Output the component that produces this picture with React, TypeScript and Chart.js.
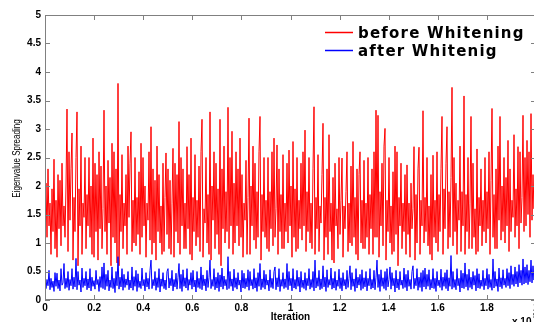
import React, { useEffect, useRef } from "react";
import { Chart, registerables } from "chart.js";

Chart.register(...registerables);

// Iteration axis (in units of 1e5); samples evenly spaced over 0..2
const X_MIN = 0;
const X_MAX = 2;
const X_STEP = 0.2;
const Y_MIN = 0;
const Y_MAX = 5;
const Y_STEP = 0.5;

const SERIES_NAMES = ["before Whitening", "after Whitenig"];

// Eigenvalue spreading before whitening (one sample per pixel column)
const beforeWhitening = [
  1.55, 2.05, 1.1, 2.3, 1.3, 1.7, 0.8, 1.95, 1.2, 2.47, 0.9, 1.75, 0.75, 2.2, 1.25, 2.1, 0.95, 2.4, 1.3, 1.65,
  1.1, 2.0, 3.35, 0.85, 2.6, 1.4, 2.3, 2.93, 0.7, 1.8, 1.2, 2.5, 3.3, 0.6, 1.95, 1.3, 2.7, 0.8, 1.7, 1.45,
  2.5, 0.9, 1.85, 1.3, 2.5, 1.1, 2.0, 0.8, 2.84, 0.75, 2.4, 1.2, 2.2, 0.7, 2.6, 1.25, 2.35, 0.9, 1.6, 3.33,
  1.2, 2.0, 0.8, 2.45, 1.35, 2.15, 0.6, 2.75, 1.1, 2.6, 1.0, 2.3, 0.65, 3.8, 0.6, 1.85, 1.2, 2.55, 0.9, 1.7,
  1.3, 2.2, 0.8, 2.7, 1.45, 2.4, 2.95, 0.85, 1.75, 1.0, 2.5, 0.95, 1.8, 1.15, 2.25, 0.8, 2.75, 1.1, 2.5, 1.3,
  2.0, 0.75, 1.7, 1.4, 2.6, 1.05, 3.04, 0.8, 2.3, 1.0, 2.1, 0.7, 2.7, 1.2, 2.2, 1.0, 1.65, 0.8, 2.4, 0.85,
  1.8, 2.58, 1.15, 2.3, 0.9, 2.1, 0.8, 1.7, 2.66, 0.75, 2.4, 1.2, 2.2, 1.0, 3.13, 0.8, 2.5, 1.3, 2.3, 0.9,
  1.7, 0.9, 2.69, 1.25, 2.2, 0.8, 2.84, 0.7, 1.8, 1.2, 2.55, 0.95, 1.75, 1.1, 2.35, 0.85, 2.6, 3.17, 0.75, 1.6,
  1.35, 2.5, 1.0, 1.85, 0.8, 3.3, 0.7, 2.0, 1.4, 2.6, 0.9, 2.4, 1.15, 1.95, 0.8, 3.17, 0.6, 2.3, 1.25, 2.7,
  1.0, 1.9, 1.2, 3.38, 0.9, 2.5, 1.3, 2.96, 0.8, 2.05, 1.0, 2.6, 1.3, 2.3, 0.95, 2.84, 1.1, 2.2, 0.75, 1.7,
  1.4, 2.45, 0.8, 1.8, 3.19, 0.8, 2.0, 1.3, 2.7, 1.05, 2.4, 0.9, 1.9, 1.1, 2.6, 3.22, 0.7, 1.85, 1.2, 2.5,
  1.1, 1.75, 0.9, 2.5, 0.85, 1.9, 1.25, 2.6, 0.95, 2.84, 1.1, 1.6, 2.72, 0.8, 2.3, 1.2, 1.85, 0.9, 2.55, 0.9,
  1.7, 1.2, 2.4, 1.0, 2.63, 1.3, 2.0, 0.75, 2.78, 1.1, 1.95, 0.85, 2.5, 0.9, 1.75, 1.25, 2.4, 1.05, 2.6, 1.3,
  2.98, 0.85, 1.9, 1.2, 2.5, 1.0, 1.7, 0.9, 2.3, 3.39, 0.8, 1.8, 1.25, 2.55, 0.85, 1.65, 1.35, 2.2, 3.1, 0.7,
  1.8, 1.1, 2.3, 0.8, 2.9, 1.2, 1.7, 0.7, 2.15, 0.65, 2.4, 1.3, 1.6, 0.9, 2.5, 1.15, 1.75, 2.49, 0.75, 1.65,
  1.25, 1.9, 2.6, 0.85, 1.7, 1.0, 2.35, 0.95, 2.78, 1.1, 1.8, 0.8, 2.3, 0.7, 2.2, 2.6, 1.0, 1.75, 0.9, 2.45,
  0.9, 1.7, 1.1, 2.5, 0.8, 1.85, 1.25, 2.3, 0.8, 2.6, 1.1, 3.33, 1.1, 3.24, 0.75, 1.9, 1.3, 2.4, 0.95, 2.7,
  3.01, 0.7, 1.75, 1.2, 2.5, 1.0, 1.65, 0.8, 2.25, 0.85, 2.7, 1.15, 2.6, 0.6, 1.8, 1.3, 2.4, 0.9, 1.7, 1.2,
  2.2, 0.8, 2.37, 1.15, 1.7, 0.75, 2.05, 1.25, 1.6, 2.69, 0.7, 1.85, 1.0, 2.3, 2.68, 0.8, 1.75, 1.3, 3.32, 1.0,
  1.8, 1.2, 2.5, 0.95, 1.65, 0.8, 2.2, 0.7, 2.54, 1.1, 1.75, 1.0, 2.6, 0.85, 1.85, 1.2, 2.3, 3.22, 0.8, 1.95,
  1.25, 2.4, 3.04, 0.9, 1.9, 1.1, 2.15, 3.73, 0.95, 2.5, 1.2, 2.05, 0.8, 1.75, 1.4, 2.7, 0.85, 1.9, 1.3, 3.58,
  0.8, 1.85, 1.2, 2.5, 0.9, 1.7, 3.22, 0.9, 2.4, 1.1, 1.6, 0.8, 2.65, 0.85, 1.8, 1.3, 2.3, 0.95, 1.75, 1.2,
  2.5, 1.0, 1.9, 1.25, 2.6, 0.8, 2.1, 3.36, 1.1, 1.85, 0.9, 2.3, 0.9, 2.7, 1.4, 3.22, 1.05, 2.0, 1.2, 2.5,
  1.0, 2.15, 1.3, 2.8, 0.85, 2.3, 1.2, 1.75, 1.45, 2.9, 1.1, 1.95, 1.3, 2.69, 0.9, 2.6, 1.35, 1.8, 3.24, 1.2,
  2.5, 1.3, 2.8, 1.5, 2.6, 1.1, 3.27, 1.4, 2.2, 1.6, 2.45, 1.5,
];

// Eigenvalue spreading after whitening (one sample per pixel column)
const afterWhitening = [
  0.42, 0.2, 0.36, 0.25, 0.52, 0.18, 0.38, 0.22, 0.33, 0.15, 0.48, 0.24, 0.47, 0.2, 0.35, 0.16, 0.55, 0.26, 0.3, 0.64,
  0.2, 0.38, 0.22, 0.5, 0.17, 0.36, 0.25, 0.55, 0.19, 0.4, 0.23, 0.73, 0.18, 0.5, 0.26, 0.35, 0.14, 0.56, 0.22, 0.38,
  0.25, 0.5, 0.18, 0.37, 0.21, 0.55, 0.16, 0.4, 0.24, 0.34, 0.19, 0.52, 0.27, 0.36, 0.15, 0.41, 0.22, 0.58, 0.2, 0.65,
  0.18, 0.45, 0.24, 0.52, 0.16, 0.35, 0.22, 0.58, 0.2, 0.38, 0.13, 0.5, 0.25, 0.76, 0.19, 0.4, 0.23, 0.55, 0.17, 0.45,
  0.22, 0.37, 0.26, 0.5, 0.18, 0.35, 0.21, 0.58, 0.17, 0.41, 0.24, 0.52, 0.15, 0.46, 0.22, 0.33, 0.2, 0.56, 0.25, 0.36,
  0.16, 0.48, 0.23, 0.38, 0.19, 0.52, 0.7, 0.2, 0.36, 0.25, 0.5, 0.17, 0.39, 0.22, 0.55, 0.14, 0.37, 0.24, 0.48, 0.2,
  0.35, 0.18, 0.5, 0.55, 0.21, 0.38, 0.25, 0.52, 0.16, 0.36, 0.23, 0.47, 0.19, 0.4, 0.64, 0.2, 0.45, 0.15, 0.53, 0.24,
  0.39, 0.21, 0.55, 0.17, 0.36, 0.26, 0.48, 0.19, 0.52, 0.23, 0.35, 0.14, 0.5, 0.22, 0.38, 0.2, 0.58, 0.18, 0.44, 0.25,
  0.37, 0.16, 0.52, 0.22, 0.39, 0.7, 0.2, 0.36, 0.24, 0.55, 0.18, 0.4, 0.21, 0.48, 0.15, 0.44, 0.23, 0.56, 0.19, 0.42,
  0.25, 0.36, 0.18, 0.76, 0.2, 0.5, 0.24, 0.37, 0.16, 0.54, 0.22, 0.39, 0.19, 0.48, 0.26, 0.35, 0.14, 0.52, 0.21, 0.47,
  0.2, 0.38, 0.23, 0.53, 0.17, 0.5, 0.25, 0.36, 0.19, 0.55, 0.21, 0.39, 0.15, 0.48, 0.24, 0.64, 0.18, 0.37, 0.22, 0.52,
  0.19, 0.45, 0.26, 0.35, 0.16, 0.53, 0.22, 0.38, 0.2, 0.5, 0.58, 0.18, 0.39, 0.23, 0.55, 0.15, 0.36, 0.24, 0.48, 0.2,
  0.37, 0.22, 0.64, 0.18, 0.5, 0.25, 0.38, 0.16, 0.55, 0.21, 0.36, 0.19, 0.52, 0.24, 0.4, 0.14, 0.5, 0.22, 0.35, 0.2,
  0.48, 0.17, 0.38, 0.25, 0.55, 0.19, 0.36, 0.22, 0.5, 0.16, 0.7, 0.21, 0.39, 0.24, 0.52, 0.18, 0.37, 0.2, 0.6, 0.23,
  0.4, 0.15, 0.53, 0.22, 0.36, 0.26, 0.56, 0.19, 0.38, 0.21, 0.5, 0.17, 0.35, 0.24, 0.54, 0.2, 0.39, 0.16, 0.48, 0.25,
  0.36, 0.19, 0.52, 0.22, 0.38, 0.6, 0.18, 0.48, 0.24, 0.37, 0.15, 0.55, 0.21, 0.4, 0.26, 0.45, 0.17, 0.53, 0.2, 0.39,
  0.23, 0.5, 0.16, 0.38, 0.25, 0.55, 0.19, 0.36, 0.21, 0.52, 0.18, 0.4, 0.7, 0.22, 0.45, 0.15, 0.53, 0.24, 0.39, 0.2,
  0.5, 0.17, 0.55, 0.23, 0.36, 0.58, 0.19, 0.48, 0.25, 0.38, 0.14, 0.52, 0.21, 0.37, 0.18, 0.5, 0.26, 0.35, 0.2, 0.56,
  0.22, 0.45, 0.16, 0.52, 0.24, 0.36, 0.19, 0.5, 0.6, 0.2, 0.38, 0.25, 0.55, 0.17, 0.4, 0.22, 0.48, 0.15, 0.52, 0.23,
  0.56, 0.19, 0.45, 0.24, 0.53, 0.18, 0.36, 0.21, 0.55, 0.2, 0.38, 0.15, 0.5, 0.25, 0.35, 0.22, 0.54, 0.17, 0.4, 0.24,
  0.48, 0.2, 0.53, 0.16, 0.39, 0.24, 0.78, 0.19, 0.5, 0.22, 0.36, 0.18, 0.55, 0.25, 0.38, 0.14, 0.52, 0.21, 0.47, 0.2,
  0.65, 0.23, 0.45, 0.17, 0.54, 0.22, 0.4, 0.19, 0.5, 0.26, 0.43, 0.16, 0.55, 0.21, 0.46, 0.2, 0.35, 0.24, 0.52, 0.18,
  0.38, 0.25, 0.55, 0.19, 0.45, 0.22, 0.36, 0.17, 0.72, 0.21, 0.5, 0.24, 0.37, 0.15, 0.56, 0.23, 0.39, 0.2, 0.53, 0.26,
  0.38, 0.22, 0.55, 0.25, 0.48, 0.2, 0.6, 0.27, 0.45, 0.24, 0.58, 0.28, 0.5, 0.23, 0.62, 0.3, 0.52, 0.26, 0.72, 0.28,
  0.58, 0.3, 0.62, 0.27, 0.52, 0.32, 0.7, 0.3, 0.6, 0.35, 0.66, 0.38,
];

const toPoints = (vals: number[]) =>
  vals.map((y, i) => ({ x: X_MIN + (i * (X_MAX - X_MIN)) / (vals.length - 1), y }));

const COLORS = ["rgb(255,0,0)", "rgb(0,0,255)"];
const FRAME = "#808080";

const framePlugin = {
  id: "matlabFrame",
  afterDraw(chart: any) {
    const { ctx, chartArea: a, scales } = chart;
    const xs = scales.x;
    const ys = scales.y;
    ctx.save();
    ctx.strokeStyle = FRAME;
    ctx.lineWidth = 1;
    ctx.beginPath();
    ctx.rect(a.left + 0.5, a.top + 0.5, a.right - a.left - 1, a.bottom - a.top - 1);
    ctx.stroke();
    ctx.beginPath();
    xs.ticks.forEach((t: any) => {
      const px = Math.round(xs.getPixelForValue(t.value)) + 0.5;
      ctx.moveTo(px, a.bottom);
      ctx.lineTo(px, a.bottom - 5);
      ctx.moveTo(px, a.top);
      ctx.lineTo(px, a.top + 5);
    });
    ys.ticks.forEach((t: any) => {
      const py = Math.round(ys.getPixelForValue(t.value)) + 0.5;
      ctx.moveTo(a.left, py);
      ctx.lineTo(a.left + 5, py);
      ctx.moveTo(a.right, py);
      ctx.lineTo(a.right - 5, py);
    });
    ctx.stroke();

    // Legend (no box)
    const legendRows = [
      { y: 32.5, base: 38 },
      { y: 50.5, base: 56 },
    ];
    SERIES_NAMES.forEach((name, i) => {
      const r = legendRows[i];
      ctx.strokeStyle = COLORS[i];
      ctx.lineWidth = 1.5;
      ctx.beginPath();
      ctx.moveTo(325, r.y);
      ctx.lineTo(353, r.y);
      ctx.stroke();
      ctx.fillStyle = "#000";
      ctx.font = 'bold 15px "DejaVu Sans"';
      (ctx as any).letterSpacing = "1.2px";
      ctx.textAlign = "left";
      ctx.textBaseline = "alphabetic";
      ctx.fillText(name, 358, r.base);
      (ctx as any).letterSpacing = "0px";
    });

    // Axis titles
    ctx.fillStyle = "#000";
    ctx.font = 'bold 10px "Liberation Sans"';
    ctx.textAlign = "center";
    ctx.textBaseline = "middle";
    ctx.fillText("Iteration", (a.left + a.right) / 2, 317);

    ctx.save();
    ctx.translate(17, (a.top + a.bottom) / 2 + 1);
    ctx.rotate(-Math.PI / 2);
    ctx.scale(0.8, 1);
    ctx.font = '10px "Liberation Sans"';
    ctx.fillText("Eigenvalue Spreading", 0, 0);
    ctx.restore();

    // Exponent label
    ctx.textAlign = "left";
    ctx.textBaseline = "top";
    ctx.font = 'bold 10px "Liberation Sans"';
    ctx.fillText("x 10", 512, 317);
    ctx.font = 'bold 7px "Liberation Sans"';
    ctx.fillText("5", 533, 313);
    ctx.restore();
  },
};

export default function App() {
  const ref = useRef<HTMLCanvasElement | null>(null);
  useEffect(() => {
    if (!ref.current) return;
    const chart = new Chart(ref.current, {
      type: "line",
      data: {
        datasets: [
          {
            label: SERIES_NAMES[1],
            data: toPoints(afterWhitening),
            borderColor: COLORS[1],
            borderWidth: 1,
            pointRadius: 0,
            tension: 0,
            order: 0,
          },
          {
            label: SERIES_NAMES[0],
            data: toPoints(beforeWhitening),
            borderColor: COLORS[0],
            borderWidth: 1,
            pointRadius: 0,
            tension: 0,
            order: 1,
          },
        ],
      },
      options: {
        responsive: false,
        animation: false,
        devicePixelRatio: 1,
        layout: { padding: { top: 15, right: 9, left: 0, bottom: 0 } },
        plugins: {
          legend: { display: false },
          tooltip: { enabled: false },
        },
        scales: {
          x: {
            type: "linear",
            min: X_MIN,
            max: X_MAX,
            grid: { display: false, drawTicks: false },
            border: { display: false },
            ticks: {
              stepSize: X_STEP,
              padding: 2,
              maxRotation: 0,
              autoSkip: false,
              color: "#000",
              font: { family: "Liberation Sans", size: 10, weight: "bold" },
              callback: (v: any) => String(Math.round(Number(v) * 10) / 10),
            },
            afterFit: (s: any) => {
              s.height = 22;
            },
          },
          y: {
            type: "linear",
            min: Y_MIN,
            max: Y_MAX,
            grid: { display: false, drawTicks: false },
            border: { display: false },
            ticks: {
              stepSize: Y_STEP,
              padding: 4,
              color: "#000",
              font: { family: "Liberation Sans", size: 10, weight: "bold" },
              callback: (v: any) => String(Math.round(Number(v) * 10) / 10),
            },
            afterFit: (s: any) => {
              s.width = 45;
            },
          },
        },
      },
      plugins: [framePlugin],
    });
    return () => chart.destroy();
  }, []);
  return (
    <div
      style={{
        position: "fixed",
        left: 0,
        top: 0,
        width: 534,
        height: 322,
        overflow: "hidden",
        background: "#fff",
      }}
    >
      <canvas ref={ref} width={545} height={322} style={{ width: 545, height: 322, display: "block" }} />
    </div>
  );
}
